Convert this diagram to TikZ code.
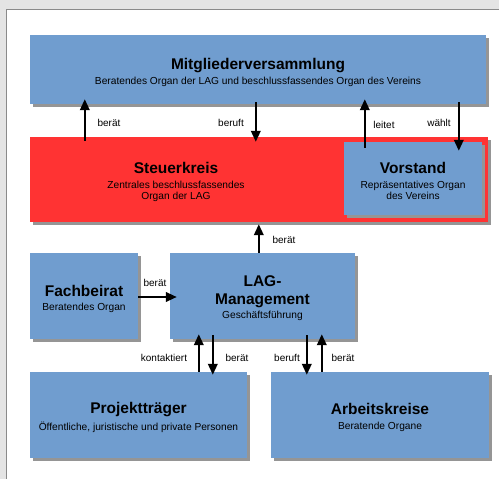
\documentclass[tikz,border=0pt]{standalone}
\usepackage{fontspec}
\setmainfont{Liberation Sans}
\usetikzlibrary{arrows.meta,shadows}
\definecolor{bgray}{HTML}{E4E4E4}
\definecolor{pborder}{HTML}{8A8A8A}
\definecolor{boxblue}{HTML}{709DCF}
\definecolor{boxred}{HTML}{FF3333}
\definecolor{shadowgray}{HTML}{959595}
\newcommand{\ttl}[1]{{\fontsize{15.5}{17}\selectfont\bfseries #1}}
\tikzset{
  x=1pt, y=-1pt,
  box/.style={rectangle, fill=boxblue, inner sep=0pt,
    drop shadow={shadow xshift=3pt, shadow yshift=-3pt, fill=shadowgray, opacity=1}},
  redbox/.style={box, fill=boxred},
  arr/.style={line width=2.2pt, -{Triangle[length=11pt,width=9.5pt]}},
  lbl/.style={font=\fontsize{10}{12}\selectfont, inner sep=0pt},
  txt/.style={align=center, font=\fontsize{10.2}{11}\selectfont, inner sep=0pt},
  boxtext/.style={label={[txt, yshift=-2.5pt]center:{#1}}}
}
\begin{document}
\begin{tikzpicture}
\useasboundingbox (0,0) rectangle (499,479);
\fill[bgray] (0,0) rectangle (499,479);
\filldraw[fill=white, draw=pborder, line width=0.8pt] (6,9) rectangle (520,500);

% boxes
\node[box, minimum width=456pt, minimum height=69pt,
  boxtext={\ttl{Mitgliederversammlung}\\[4pt]Beratendes Organ der LAG und beschlussfassendes Organ des Vereins}]
  (mv) at (258,69.5) {};
\node[redbox, minimum width=458pt, minimum height=85pt] (sk) at (259,179.5) {};
\node[txt] (skt) at (176,182)
  {\ttl{Steuerkreis}\\[4pt]Zentrales beschlussfassendes\\Organ der LAG};
\node[box, minimum width=138pt, minimum height=73pt,
  boxtext={\ttl{Vorstand}\\[4pt]Repräsentatives Organ\\des Vereins}]
  (vs) at (413,178.5) {};
\node[box, minimum width=108pt, minimum height=86pt,
  boxtext={\ttl{Fachbeirat}\\[3pt]Beratendes Organ}]
  (fb) at (84,296) {};
\node[box, minimum width=185pt, minimum height=86pt,
  boxtext={\ttl{LAG-}\\[7pt]\ttl{Management}\\[3pt]Geschäftsführung}]
  (lag) at (262.5,296) {};
\node[box, minimum width=217pt, minimum height=86pt,
  boxtext={\ttl{Projektträger}\\[4pt]Öffentliche, juristische und private Personen}]
  (pt) at (138.5,415) {};
\node[box, minimum width=218pt, minimum height=86pt,
  boxtext={\ttl{Arbeitskreise}\\[4pt]Beratende Organe}]
  (ak) at (380,415) {};

% arrows
\draw[arr] ([xshift=55pt,yshift=-4pt]sk.north west) -- ([xshift=55pt,yshift=5pt]mv.south west);
\draw[arr] ([xshift=226pt,yshift=2pt]mv.south west) -- ([xshift=226pt,yshift=-5pt]sk.north west);
\draw[arr] ([xshift=21pt,yshift=-6pt]vs.north west) -- ([xshift=335pt,yshift=5pt]mv.south west);
\draw[arr] ([xshift=429pt,yshift=2pt]mv.south west) -- ([xshift=115pt,yshift=-9pt]vs.north west);
\draw[arr] ([xshift=89pt]lag.north west) -- ([xshift=229pt,yshift=-2pt]sk.south west);
\draw[arr] (fb.east |- 0,297) -- ([xshift=7pt]lag.west |- 0,297);
\draw[arr] ([xshift=29pt]lag.south west |- pt.north) -- ([xshift=29pt,yshift=5pt]lag.south west);
\draw[arr] ([xshift=43pt,yshift=4pt]lag.south west) -- ([xshift=43pt,yshift=-3pt]lag.south west |- pt.north);
\draw[arr] ([xshift=137pt,yshift=4pt]lag.south west) -- ([xshift=137pt,yshift=-3pt]lag.south west |- ak.north);
\draw[arr] ([xshift=152pt]lag.south west |- ak.north) -- ([xshift=152pt,yshift=5pt]lag.south west);

% labels
\node[lbl] (l1) at (109,123) {berät};
\node[lbl] (l2) at (231,123) {beruft};
\node[lbl] (l3) at (384,125) {leitet};
\node[lbl] (l4) at (439,123) {wählt};
\node[lbl] (l5) at (284,240) {berät};
\node[lbl] (l6) at (155,283) {berät};
\node[lbl] (l7) at (164,358) {kontaktiert};
\node[lbl] (l8) at (237,358) {berät};
\node[lbl] (l9) at (287,358) {beruft};
\node[lbl] (l10) at (343,358) {berät};
\end{tikzpicture}
\end{document}
